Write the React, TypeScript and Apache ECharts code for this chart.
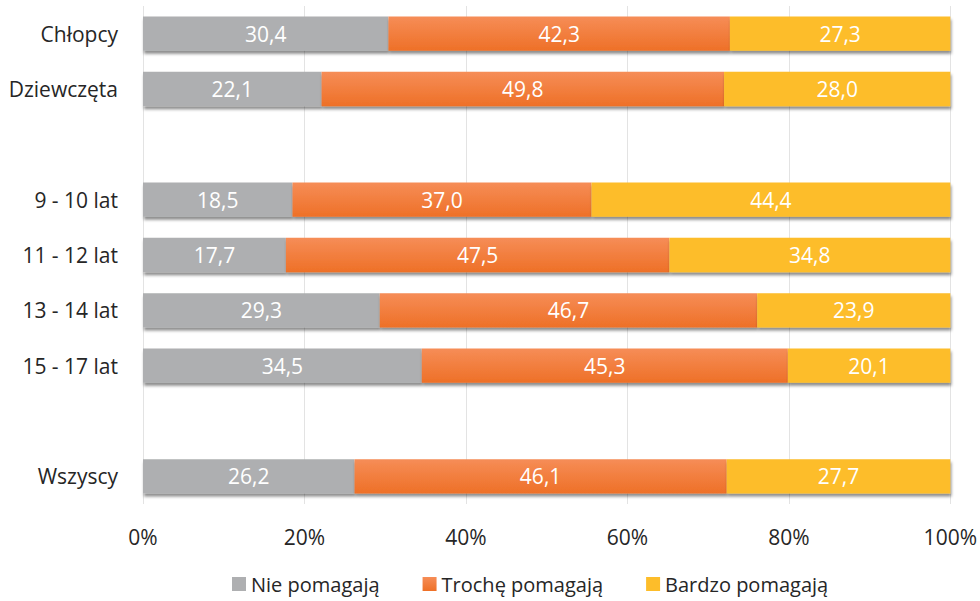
import React, { useEffect, useRef } from "react";
import * as echarts from "echarts";

const categories = ["Chłopcy", "Dziewczęta", "", "9 - 10 lat", "11 - 12 lat", "13 - 14 lat", "15 - 17 lat", " ", "Wszyscy"];
const niePomagaja = [30.4, 22.1, null, 18.5, 17.7, 29.3, 34.5, null, 26.2];
const trochePomagaja = [42.3, 49.8, null, 37.0, 47.5, 46.7, 45.3, null, 46.1];
const bardzoPomagaja = [27.3, 28.0, null, 44.4, 34.8, 23.9, 20.1, null, 27.7];
const seriesNames = ["Nie pomagają", "Trochę pomagają", "Bardzo pomagają"];
const xTicks = [0, 20, 40, 60, 80, 100];

const FONT = "'Open Sans', 'Noto Sans', sans-serif";

export default function App() {
  const ref = useRef<HTMLDivElement>(null);
  useEffect(() => {
    if (!ref.current) return;
    const chart = echarts.init(ref.current, null, { renderer: "svg" });
    const all = [niePomagaja, trochePomagaja, bardzoPomagaja];
    const sums = categories.map((_, i) =>
      all.reduce((s, arr) => s + (arr[i] ?? 0), 0)
    );
    const colors: any[] = [
      "#AEAFB1",
      new echarts.graphic.LinearGradient(0, 0, 0, 1, [
        { offset: 0, color: "#F68D57" },
        { offset: 1, color: "#EE7027" },
      ]),
      "#FDBD2A",
    ];
    const series = all.map((arr, k) => ({
      name: seriesNames[k],
      type: "bar",
      stack: "total",
      barWidth: "62%",
      data: arr.map((v, i) =>
        v == null ? null : { value: (v / sums[i]) * 100, raw: v }
      ),
      itemStyle: {
        color: colors[k],
        shadowColor: "rgba(0,0,0,0.45)",
        shadowBlur: 3,
        shadowOffsetX: 1,
        shadowOffsetY: 3,
      },
      label: {
        show: true,
        position: "inside",
        color: "#ffffff",
        fontFamily: FONT,
        fontSize: 21,
        formatter: (p: any) => p.data.raw.toFixed(1).replace(".", ","),
      },
    }));
    chart.setOption({
      animation: false,
      grid: { left: 143, right: 27, top: 6, bottom: 97, containLabel: false },
      legend: {
        bottom: 2,
        left: 227,
        itemWidth: 14,
        itemHeight: 14,
        itemGap: 43,
        icon: "rect",
        textStyle: { fontFamily: FONT, fontSize: 20, color: "#262626" },
        data: seriesNames,
      },
      xAxis: {
        type: "value",
        min: 0,
        max: 100,
        interval: 20,
        axisLabel: {
          formatter: (v: number) => (xTicks.includes(v) ? v + "%" : ""),
          fontFamily: FONT,
          fontSize: 21,
          color: "#262626",
          margin: 22,
        },
        splitLine: { show: true, lineStyle: { color: "#E3E3E3", width: 1 } },
        axisLine: { show: false },
        axisTick: { show: false },
      },
      yAxis: {
        type: "category",
        data: categories,
        inverse: true,
        axisLabel: {
          fontFamily: FONT,
          fontSize: 21,
          color: "#262626",
          margin: 25,
        },
        axisLine: { show: false },
        axisTick: { show: false },
        splitLine: { show: false },
      },
      series,
    });
    return () => chart.dispose();
  }, []);
  return <div ref={ref} style={{ width: 980, height: 601, position: "absolute", left: 0, top: 0 }} />;
}
